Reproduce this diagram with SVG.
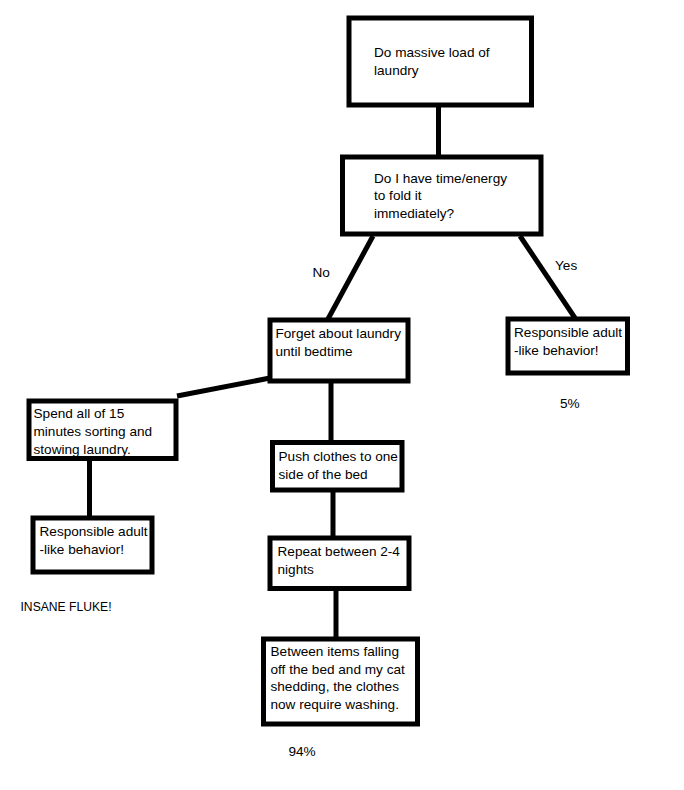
<svg xmlns="http://www.w3.org/2000/svg" width="684" height="790" viewBox="0 0 684 790">
<style>
.box{fill:#fff;stroke:#000;stroke-width:5}
.con{stroke:#000;stroke-width:5;fill:none}
text{font-family:"Liberation Sans",Arial,sans-serif;font-size:13.6px;fill:#000}
</style>
<rect width="684" height="790" fill="#fff"/>
<g id="connectors">
<line class="con" x1="438.5" y1="105" x2="438.5" y2="157"/>
<line class="con" x1="373" y1="236" x2="328" y2="319"/>
<line class="con" x1="520" y1="236" x2="575" y2="318"/>
<polyline class="con" points="270,378 177,396"/>
<line class="con" x1="331" y1="381" x2="331" y2="442"/>
<line class="con" x1="89.5" y1="458" x2="89.5" y2="518"/>
<line class="con" x1="333" y1="490" x2="333" y2="538"/>
<line class="con" x1="336" y1="588" x2="336" y2="639"/>
<text x="312.5" y="277">No</text>
<text x="555" y="270">Yes</text>
</g>
<g id="n1"><rect class="box" x="349" y="18" width="182.5" height="87"/>
<text x="374" y="57">Do massive load of</text><text x="374" y="75">laundry</text></g>
<g id="n2"><rect class="box" x="342.5" y="157" width="198.5" height="77"/>
<text x="374" y="182.5">Do I have time/energy</text><text x="374" y="200">to fold it</text><text x="374" y="218">immediately?</text></g>
<g id="n3"><rect class="box" x="270" y="320" width="138" height="61"/>
<text x="275.5" y="338">Forget about laundry</text><text x="275.5" y="356">until bedtime</text></g>
<g id="n4"><rect class="box" x="508" y="319" width="119.5" height="54"/>
<text x="514" y="337">Responsible adult</text><text x="514" y="354.5">-like behavior!</text></g>
<g id="n5"><text x="560" y="408">5%</text></g>
<g id="n6"><rect class="box" x="29" y="401" width="147" height="57.5"/>
<text x="33.5" y="418">Spend all of 15</text><text x="33.5" y="436">minutes sorting and</text><text x="33.5" y="453.5">stowing laundry.</text></g>
<g id="n7"><rect class="box" x="33" y="518" width="119" height="54"/>
<text x="39.5" y="536">Responsible adult</text><text x="39.5" y="553.5">-like behavior!</text></g>
<g id="n8"><text x="20.5" y="611" textLength="91" lengthAdjust="spacingAndGlyphs">INSANE FLUKE!</text></g>
<g id="n9"><rect class="box" x="272.5" y="442.5" width="129.5" height="47.5"/>
<text x="278.5" y="461">Push clothes to one</text><text x="278.5" y="478.5">side of the bed</text></g>
<g id="n10"><rect class="box" x="270" y="538" width="139" height="50.5"/>
<text x="277.5" y="556">Repeat between 2-4</text><text x="277.5" y="573.5">nights</text></g>
<g id="n11"><rect class="box" x="263.5" y="639" width="154" height="85"/>
<text x="270.5" y="656">Between items falling</text><text x="270.5" y="673.5">off the bed and my cat</text><text x="270.5" y="691">shedding, the clothes</text><text x="270.5" y="709">now require washing.</text></g>
<g id="n12"><text x="288.5" y="756">94%</text></g>
</svg>
